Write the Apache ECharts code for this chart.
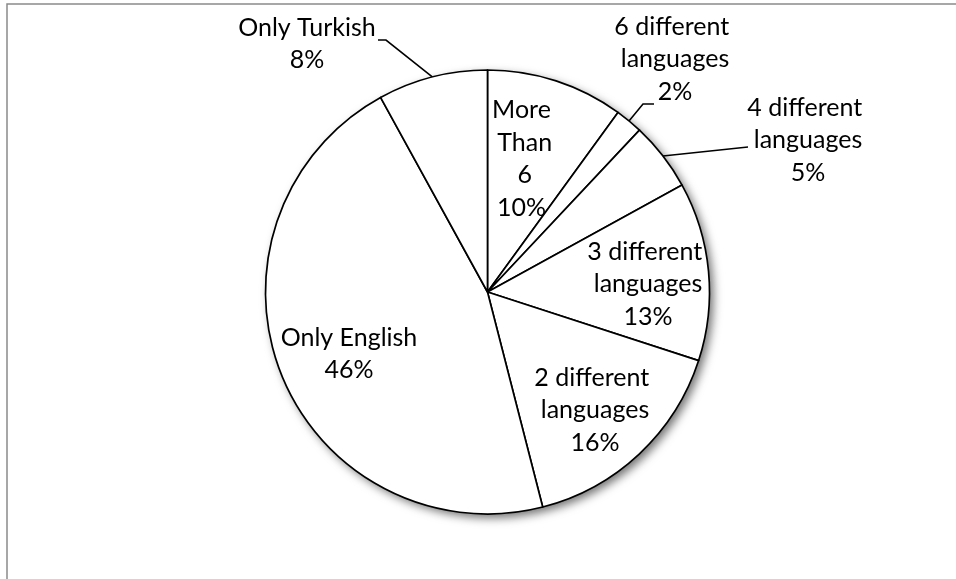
<!DOCTYPE html>
<html>
<head>
<meta charset="utf-8">
<script src="https://cdn.jsdelivr.net/npm/echarts@6/dist/echarts.min.js"></script>
<style>
  html, body { margin: 0; padding: 0; background: #fff; }
  #chart { width: 956px; height: 579px; }
</style>
</head>
<body>
<div id="chart"></div>
<script>
// Slices, clockwise from 12 o'clock
const categories = [
  'More Than 6',
  '6 different languages',
  '4 different languages',
  '3 different languages',
  '2 different languages',
  'Only English',
  'Only Turkish'
];
const shares = [10, 2, 5, 13, 16, 46, 8];

// Pie geometry (px)
const CX = 487.5, CY = 292, R = 222;

// Where each label sits, as an offset from the pie centre
const labelOffsets = [
  [34, -133],
  [187.5, -233],
  [320.5, -152],
  [160.5, -8],
  [107.5, 118],
  [-138.5, 62],
  [-180.5, -248]
];
// Wrapping width of each label block
const labelWidths = [62, 130, 130, 130, 130, 200, 200];
// Labels drawn outside the pie, with leader lines (bend / end relative to label centre)
const leaders = {
  1: { bend: [-32, 45], end: [-21, 45] },
  2: { bend: null, end: [-60, 7] },
  6: { bend: [79, -4], end: [71, -4] }
};

const total = shares.reduce((a, b) => a + b, 0);
function arcPoint(i) {
  let before = 0;
  for (let k = 0; k < i; k++) before += shares[k];
  const mid = (before + shares[i] / 2) / total * 2 * Math.PI;
  return [CX + R * Math.sin(mid), CY - R * Math.cos(mid)];
}

const pieData = categories.map((name, i) => ({
  name: name,
  value: shares[i],
  label: {
    position: leaders[i] ? 'outside' : 'inside',
    width: labelWidths[i],
    overflow: 'break'
  },
  labelLine: { show: !!leaders[i] }
}));

const chart = echarts.init(document.getElementById('chart'), null, { renderer: 'canvas' });

chart.setOption({
  animation: false,
  backgroundColor: '#fff',
  graphic: [{
    type: 'rect',
    silent: true,
    shape: { x: 7, y: 4, width: 1000, height: 1000 },
    style: { fill: 'none', stroke: '#8a8a8a', lineWidth: 1.5 }
  }],
  series: [
    {
      // soft drop shadow under the whole pie
      type: 'pie',
      silent: true,
      z: 1,
      center: [CX, CY],
      radius: R,
      label: { show: false },
      labelLine: { show: false },
      emphasis: { disabled: true },
      itemStyle: {
        color: '#fff',
        shadowBlur: 10,
        shadowOffsetX: 4,
        shadowOffsetY: 4,
        shadowColor: 'rgba(0,0,0,0.55)'
      },
      data: [{ value: 1, name: '' }]
    },
    {
      type: 'pie',
      z: 2,
      center: [CX, CY],
      radius: R,
      startAngle: 90,
      clockwise: true,
      avoidLabelOverlap: false,
      emphasis: { disabled: true },
      itemStyle: { color: '#fff', borderColor: '#000', borderWidth: 1.7 },
      label: {
        show: true,
        color: '#000',
        fontFamily: 'Lato',
        fontSize: 25,
        lineHeight: 32.5,
        align: 'center',
        formatter: p => p.name + '\n' + p.value + '%'
      },
      labelLine: {
        lineStyle: { color: '#000', width: 1.6 }
      },
      labelLayout: function (params) {
        const i = params.dataIndex;
        const lx = CX + labelOffsets[i][0];
        const ly = CY + labelOffsets[i][1];
        const out = { x: lx, y: ly, align: 'center', verticalAlign: 'middle' };
        const ld = leaders[i];
        if (ld) {
          const a = arcPoint(i);
          const pts = [a];
          pts.push(ld.bend ? [lx + ld.bend[0], ly + ld.bend[1]] : a);
          pts.push([lx + ld.end[0], ly + ld.end[1]]);
          out.labelLinePoints = pts;
        }
        return out;
      },
      data: pieData
    }
  ]
});
</script>
</body>
</html>
